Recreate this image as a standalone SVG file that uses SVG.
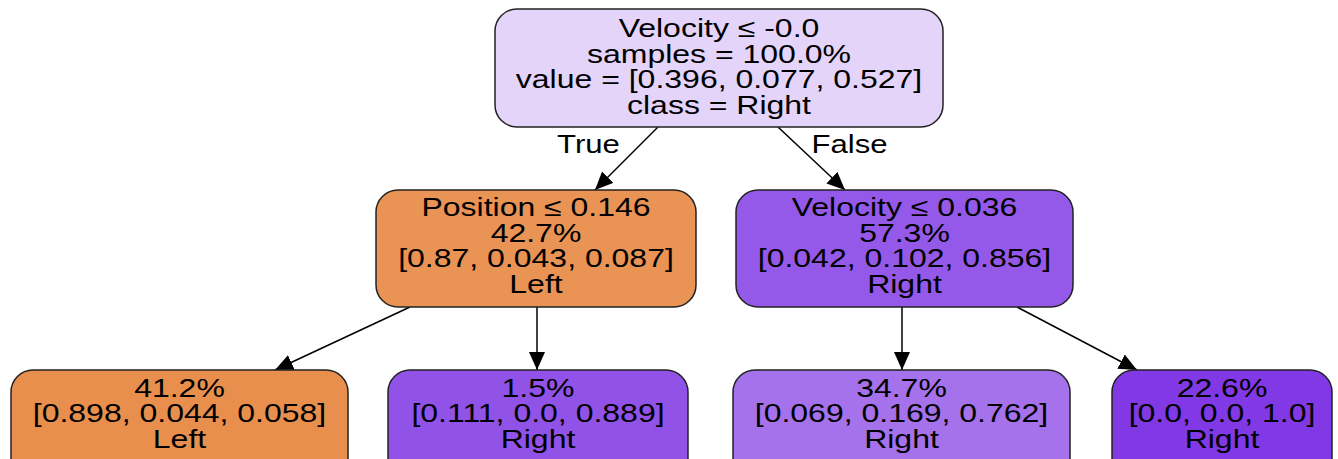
<svg xmlns="http://www.w3.org/2000/svg" width="1338" height="459" viewBox="0 0 1338 459">
<style>
.box{stroke:#222;stroke-width:1.5}
text{font-family:"Liberation Sans",Arial,sans-serif;font-size:25.5px;fill:#000;text-anchor:middle}
.edge{stroke:#000;stroke-width:1.5;fill:none}
</style>
<defs>
<marker id="arr" markerUnits="userSpaceOnUse" markerWidth="20" markerHeight="18" refX="18" refY="8" orient="auto">
<path d="M0,0 L18,8 L0,16 z" fill="#000"/>
</marker>
</defs>
<rect width="1338" height="459" fill="#fff"/>
<g id="edges">
<line class="edge" x1="658" y1="127" x2="595" y2="190" marker-end="url(#arr)"/>
<line class="edge" x1="778" y1="127" x2="845" y2="190" marker-end="url(#arr)"/>
<line class="edge" x1="410" y1="307" x2="275" y2="370" marker-end="url(#arr)"/>
<line class="edge" x1="537" y1="307" x2="537" y2="370" marker-end="url(#arr)"/>
<line class="edge" x1="902" y1="307" x2="902" y2="370" marker-end="url(#arr)"/>
<line class="edge" x1="1017" y1="307" x2="1137" y2="370" marker-end="url(#arr)"/>
<g transform="translate(588.5,0) scale(1.22,1)"><text x="0" y="153">True</text></g>
<g transform="translate(849.5,0) scale(1.22,1)"><text x="0" y="153">False</text></g>
</g>
<g id="node0">
<rect class="box" x="495" y="9" width="448" height="118" rx="22" ry="22" fill="#e4d4f9"/>
<g transform="translate(719,0) scale(1.255,1)">
<text x="0" y="37.5">Velocity ≤ -0.0</text>
<text x="0" y="63">samples = 100.0%</text>
<text x="0" y="88.5">value = [0.396, 0.077, 0.527]</text>
<text x="0" y="114">class = Right</text>
</g>
</g>
<g id="node1">
<rect class="box" x="376" y="190" width="320" height="117" rx="22" ry="22" fill="#e99355"/>
<g transform="translate(536,0) scale(1.255,1)">
<text x="0" y="216.5">Position ≤ 0.146</text>
<text x="0" y="242">42.7%</text>
<text x="0" y="267.5">[0.87, 0.043, 0.087]</text>
<text x="0" y="293">Left</text>
</g>
</g>
<g id="node4">
<rect class="box" x="736" y="190" width="337" height="117" rx="22" ry="22" fill="#9559e9"/>
<g transform="translate(904.5,0) scale(1.255,1)">
<text x="0" y="216.5">Velocity ≤ 0.036</text>
<text x="0" y="242">57.3%</text>
<text x="0" y="267.5">[0.042, 0.102, 0.856]</text>
<text x="0" y="293">Right</text>
</g>
</g>
<g id="node2">
<rect class="box" x="11" y="370" width="337" height="117" rx="22" ry="22" fill="#e88f4e"/>
<g transform="translate(179.5,0) scale(1.255,1)">
<text x="0" y="397">41.2%</text>
<text x="0" y="422.5">[0.898, 0.044, 0.058]</text>
<text x="0" y="448">Left</text>
</g>
</g>
<g id="node3">
<rect class="box" x="388" y="370" width="300" height="117" rx="22" ry="22" fill="#9152e8"/>
<g transform="translate(538,0) scale(1.255,1)">
<text x="0" y="397">1.5%</text>
<text x="0" y="422.5">[0.111, 0.0, 0.889]</text>
<text x="0" y="448">Right</text>
</g>
</g>
<g id="node5">
<rect class="box" x="733" y="370" width="337" height="117" rx="22" ry="22" fill="#a572ec"/>
<g transform="translate(901.5,0) scale(1.255,1)">
<text x="0" y="397">34.7%</text>
<text x="0" y="422.5">[0.069, 0.169, 0.762]</text>
<text x="0" y="448">Right</text>
</g>
</g>
<g id="node6">
<rect class="box" x="1112" y="370" width="220" height="117" rx="22" ry="22" fill="#8139e5"/>
<g transform="translate(1222,0) scale(1.255,1)">
<text x="0" y="397">22.6%</text>
<text x="0" y="422.5">[0.0, 0.0, 1.0]</text>
<text x="0" y="448">Right</text>
</g>
</g>
</svg>
